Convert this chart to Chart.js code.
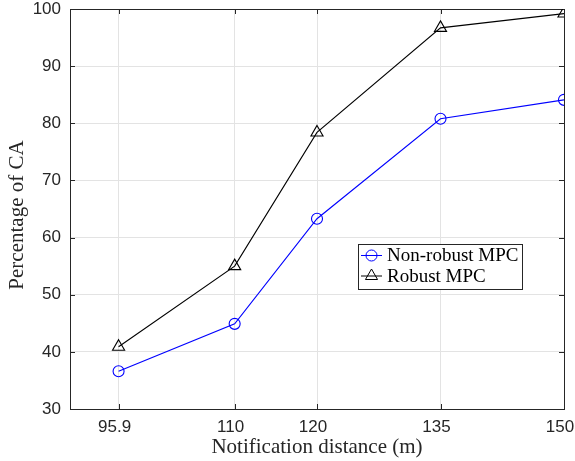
<!DOCTYPE html>
<html>
<head>
<meta charset="utf-8">
<script src="https://cdn.jsdelivr.net/npm/chart.js@4/dist/chart.umd.min.js"></script>
<style>
  html, body { margin: 0; padding: 0; background: #fff; }
</style>
</head>
<body>
<canvas id="chart" width="575" height="461"></canvas>
<script>
// Notification distance (m) on the x axis
const distances = [95.9, 110, 120, 135, 150];
const xTicks = [95.9, 110, 120, 135, 150];
// Percentage of CA
const nonRobust = [36.6, 44.9, 63.3, 80.8, 84.1];
const robust = [40.9, 55.0, 78.4, 96.7, 99.2];

const tickColor = '#262626';
const serif = '"Liberation Serif", "Times New Roman", serif';

// draws the MATLAB style box, inner ticks, titles and legend
const matlabAxes = {
  id: 'matlabAxes',
  beforeDatasetsDraw(chart) {
    const { ctx, chartArea: a, scales } = chart;
    ctx.save();
    ctx.strokeStyle = tickColor;
    ctx.lineWidth = 1;
    ctx.strokeRect(Math.round(a.left) + 0.5, Math.round(a.top) + 0.5,
      Math.round(a.right - a.left), Math.round(a.bottom - a.top));
    const len = 5;
    ctx.beginPath();
    xTicks.forEach(v => {
      const x = Math.round(scales.x.getPixelForValue(v)) + 0.5;
      ctx.moveTo(x, a.bottom); ctx.lineTo(x, a.bottom - len);
      ctx.moveTo(x, a.top); ctx.lineTo(x, a.top + len);
    });
    scales.y.ticks.forEach(t => {
      const y = Math.round(scales.y.getPixelForValue(t.value)) + 0.5;
      ctx.moveTo(a.left, y); ctx.lineTo(a.left + len, y);
      ctx.moveTo(a.right, y); ctx.lineTo(a.right - len, y);
    });
    ctx.stroke();
    ctx.restore();
  },
  afterDraw(chart) {
    const { ctx, chartArea: a } = chart;
    ctx.save();
    ctx.fillStyle = tickColor;
    ctx.font = '21px ' + serif;
    ctx.textAlign = 'center';
    ctx.textBaseline = 'middle';
    ctx.fillText('Notification distance (m)', (a.left + a.right) / 2, 447);
    ctx.translate(17, 215);
    ctx.rotate(-Math.PI / 2);
    ctx.fillText('Percentage of CA', 0, 0);
    ctx.restore();

    // legend
    const box = { x: 358.5, y: 244.5, w: 164, h: 45 };
    ctx.save();
    ctx.fillStyle = '#fff';
    ctx.fillRect(box.x, box.y, box.w, box.h);
    ctx.strokeStyle = tickColor;
    ctx.lineWidth = 1;
    ctx.strokeRect(box.x, box.y, box.w, box.h);
    ctx.font = '19px ' + serif;
    ctx.textBaseline = 'middle';
    ctx.textAlign = 'left';
    chart.data.datasets.forEach((ds, i) => {
      const y = 255.5 + i * 20.5;
      ctx.strokeStyle = ds.borderColor;
      ctx.lineWidth = 1;
      ctx.beginPath();
      ctx.moveTo(361, y); ctx.lineTo(382, y);
      ctx.stroke();
      ctx.fillStyle = 'rgba(0,0,0,0)';
      Chart.helpers.drawPoint(ctx, {
        pointStyle: ds.pointStyle, radius: ds.pointRadius, borderWidth: 1
      }, 371.5, y);
      ctx.fillStyle = '#000';
      ctx.fillText(ds.label, 387, y + 1);
    });
    ctx.restore();
  }
};

// no extra room for overhanging tick labels, the layout padding sets the plot edges
const noOverhang = scale => {
  scale.paddingTop = 0;
  scale.paddingBottom = 0;
  scale.paddingLeft = 0;
  scale.paddingRight = 0;
};

new Chart(document.getElementById('chart'), {
  type: 'line',
  data: {
    datasets: [
      {
        label: 'Non-robust MPC',
        data: distances.map((d, i) => ({ x: d, y: nonRobust[i] })),
        borderColor: '#0000ff',
        backgroundColor: 'rgba(0,0,0,0)',
        borderWidth: 1.1,
        pointStyle: 'circle',
        pointRadius: 5.5,
        pointBorderWidth: 1.1,
        pointBorderColor: '#0000ff',
        pointBackgroundColor: 'rgba(0,0,0,0)',
        tension: 0
      },
      {
        label: 'Robust MPC',
        data: distances.map((d, i) => ({ x: d, y: robust[i] })),
        borderColor: '#000000',
        backgroundColor: 'rgba(0,0,0,0)',
        borderWidth: 1.1,
        pointStyle: 'triangle',
        pointRadius: 7,
        pointBorderWidth: 1.1,
        pointBorderColor: '#000000',
        pointBackgroundColor: 'rgba(0,0,0,0)',
        tension: 0
      }
    ]
  },
  options: {
    responsive: false,
    animation: false,
    layout: { padding: { top: 9, right: 11, left: 0, bottom: 0 } },
    plugins: {
      legend: { display: false },
      tooltip: { enabled: false }
    },
    scales: {
      x: {
        type: 'linear',
        min: 90,
        max: 150,
        afterBuildTicks: scale => { scale.ticks = xTicks.map(v => ({ value: v })); },
        afterFit: scale => { scale.height = 52; noOverhang(scale); },
        grid: { color: '#e3e3e3', drawTicks: false },
        border: { display: false },
        ticks: {
          autoSkip: false,
          maxRotation: 0,
          padding: 8,
          labelOffset: -4,
          color: tickColor,
          font: { family: '"Liberation Sans", Arial, sans-serif', size: 17 },
          callback: v => String(v)
        }
      },
      y: {
        min: 30,
        max: 100,
        afterFit: scale => { scale.width = 70; noOverhang(scale); },
        grid: { color: '#e3e3e3', drawTicks: false },
        border: { display: false },
        ticks: {
          stepSize: 10,
          padding: 9,
          color: tickColor,
          font: { family: '"Liberation Sans", Arial, sans-serif', size: 17 }
        }
      }
    }
  },
  plugins: [matlabAxes]
});
</script>
</body>
</html>
